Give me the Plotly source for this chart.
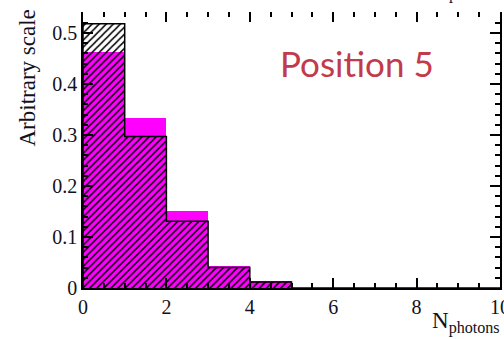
import plotly.graph_objects as go

bin_edges = [0, 1, 2, 3, 4, 5, 6, 7, 8, 9, 10]
hatched_vals = [0.518, 0.297, 0.131, 0.040, 0.012, 0.0, 0.0, 0.0, 0.0, 0.0]
magenta_vals = [0.463, 0.334, 0.150, 0.044, 0.013, 0.0, 0.0, 0.0, 0.0, 0.0]
x_ticks = [0, 2, 4, 6, 8, 10]
y_ticks = [0, 0.1, 0.2, 0.3, 0.4, 0.5]
y_labels = ["0", "0.1", "0.2", "0.3", "0.4", "0.5"]

centers = [(bin_edges[i] + bin_edges[i + 1]) / 2 for i in range(len(bin_edges) - 1)]
widths = [bin_edges[i + 1] - bin_edges[i] for i in range(len(bin_edges) - 1)]

W, H = 504, 339
L, R, T, B = 83, 4, 12, 51
pw, ph = W - L - R, H - T - B

fig = go.Figure()
fig.add_trace(go.Bar(x=centers, y=magenta_vals, width=widths,
                     marker=dict(color="#ff00ff", line=dict(width=0)),
                     showlegend=False))
fig.add_trace(go.Bar(x=centers, y=hatched_vals, width=widths,
                     marker=dict(color="rgba(0,0,0,0)", line=dict(width=0),
                                 pattern=dict(shape="/", fgcolor="black",
                                              bgcolor="rgba(0,0,0,0)",
                                              size=5, solidity=0.3,
                                              fillmode="replace")),
                     showlegend=False))
# step outline of hatched histogram
sx, sy = [bin_edges[0]], [0.0]
for i, v in enumerate(hatched_vals):
    sx += [bin_edges[i], bin_edges[i + 1]]
    sy += [v, v]
sx.append(bin_edges[-1]); sy.append(0.0)
fig.add_trace(go.Scatter(x=sx, y=sy, mode="lines",
                         line=dict(color="black", width=1.5),
                         showlegend=False, hoverinfo="skip"))

tickfont = dict(family="Liberation Serif", size=20, color="#111122")
fig.update_layout(
    width=W, height=H, margin=dict(l=L, r=R, t=T, b=B),
    paper_bgcolor="white", plot_bgcolor="white",
    barmode="overlay", bargap=0,
    xaxis=dict(range=[0, 10], tickvals=x_ticks, ticks="inside", ticklen=10,
               tickcolor="black", tickwidth=1.5, showline=True, linecolor="black",
               linewidth=1.5, showgrid=False, zeroline=False, tickfont=tickfont,
               ticklabeloverflow="allow", automargin=False,
               minor=dict(dtick=0.5, ticks="inside", ticklen=5, tickcolor="black",
                          tickwidth=1.5, showgrid=False)),
    xaxis2=dict(range=[0, 10], overlaying="x", side="top", tickvals=x_ticks,
                ticks="inside", ticklen=10, tickcolor="black", tickwidth=1.5,
                showline=False, showticklabels=False, showgrid=False, zeroline=False,
                automargin=False,
                minor=dict(dtick=0.5, ticks="inside", ticklen=5, tickcolor="black",
                           tickwidth=1.5, showgrid=False)),
    yaxis=dict(range=[0, 0.541], tickvals=y_ticks, ticktext=y_labels,
               ticks="inside", ticklen=10, tickcolor="black", tickwidth=1.5,
               showline=True, linecolor="black", linewidth=1.5, mirror="ticks",
               showgrid=False, zeroline=False, tickfont=tickfont, automargin=False,
               minor=dict(dtick=0.02, ticks="inside", ticklen=5, tickcolor="black",
                          tickwidth=1.5, showgrid=False)),
)
# invisible trace to activate xaxis2
fig.add_trace(go.Scatter(x=[0], y=[0], xaxis="x2", mode="markers",
                         marker=dict(opacity=0), showlegend=False, hoverinfo="skip"))

fig.add_annotation(text="Arbitrary scale", xref="paper", yref="paper",
                   x=(27 - L) / pw, y=(H - B - 8) / ph, xanchor="center", yanchor="top",
                   textangle=-90, showarrow=False,
                   font=dict(family="Liberation Serif", size=23, color="#111122"))
fig.add_annotation(text="N<sub>photons</sub>", xref="paper", yref="paper",
                   x=(502 - L) / pw, y=(H - B - 339) / ph, xanchor="right", yanchor="bottom",
                   showarrow=False,
                   font=dict(family="Liberation Serif", size=23, color="#111122"))
fig.add_annotation(text="photons", xref="paper", yref="paper",
                   x=(502 - L) / pw, y=(H - B - 5) / ph, xanchor="right", yanchor="bottom",
                   showarrow=False,
                   font=dict(family="Liberation Serif", size=16, color="#111122"))
fig.add_annotation(text="Position 5", xref="paper", yref="paper",
                   x=(357 - L) / pw, y=(H - B - 63) / ph, xanchor="center", yanchor="middle",
                   showarrow=False,
                   font=dict(family="Lato", size=35, color="#c23b4b"))

fig.write_html("out.html")
